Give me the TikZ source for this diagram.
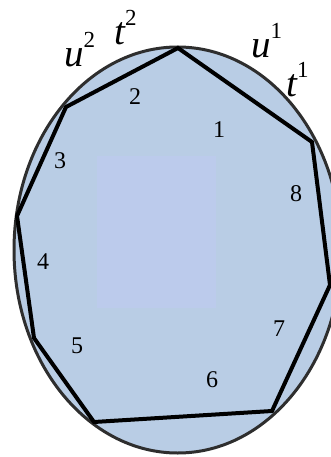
\documentclass[tikz,border=0pt]{standalone}
\usepackage{fontspec}
\setmainfont{Liberation Serif}
\definecolor{ovalfill}{HTML}{B9CDE5}
\definecolor{boxfill}{HTML}{BCCBEC}
\definecolor{ovaledge}{HTML}{2E2E2E}
\newcommand{\segname}[2]{{\fontsize{39}{39}\selectfont\itshape #1}\raisebox{19pt}{\fontsize{23}{23}\selectfont #2}}

\begin{document}
\begin{tikzpicture}
            [x=1pt, y=-1pt,
             num/.style={font=\fontsize{24}{24}\selectfont, inner sep=0pt},
             seg/.style={inner sep=0pt, anchor=base west},
             poly/.style={line width=4pt, line join=miter}]
            \useasboundingbox (0,0) rectangle (331,457);
            \clip (0,0) rectangle (331,457);

            % oval and inner box
            \draw[fill=ovalfill, draw=ovaledge, line width=3pt] (177.7,250) ellipse [x radius=163.7, y radius=203];
            \fill[boxfill] (97,156) rectangle (216,308);

            % corners of the polygon
            \coordinate (p1) at (178,48);
            \coordinate (p2) at (66,107);
            \coordinate (p3) at (17,216);
            \coordinate (p4) at (34,338);
            \coordinate (p5) at (94,422);
            \coordinate (p6) at (272,411);
            \coordinate (p7) at (330,285);
            \coordinate (p8) at (312,142);
            \draw[poly] (p1) -- (p2) -- (p3) -- (p4) -- (p5) -- (p6) -- (p7) -- (p8) -- cycle;

            \node[num] (n1) at (219,130) {1};
            \node[num] (n2) at (135,97) {2};
            \node[num] (n3) at (60,161) {3};
            \node[num] (n4) at (43,262) {4};
            \node[num] (n5) at (77,346) {5};
            \node[num] (n6) at (212,380) {6};
            \node[num] (n7) at (279,329) {7};
            \node[num] (n8) at (296,194) {8};

            \node[seg] (u2) at (64,67) {\segname{u}{2}};
            \node[seg] (t2) at (114,45) {\segname{t}{2}};
            \node[seg] (u1) at (251,58) {\segname{u}{1}};
            \node[seg] (t1) at (286,97) {\segname{t}{1}};
         \end{tikzpicture}
\end{document}
